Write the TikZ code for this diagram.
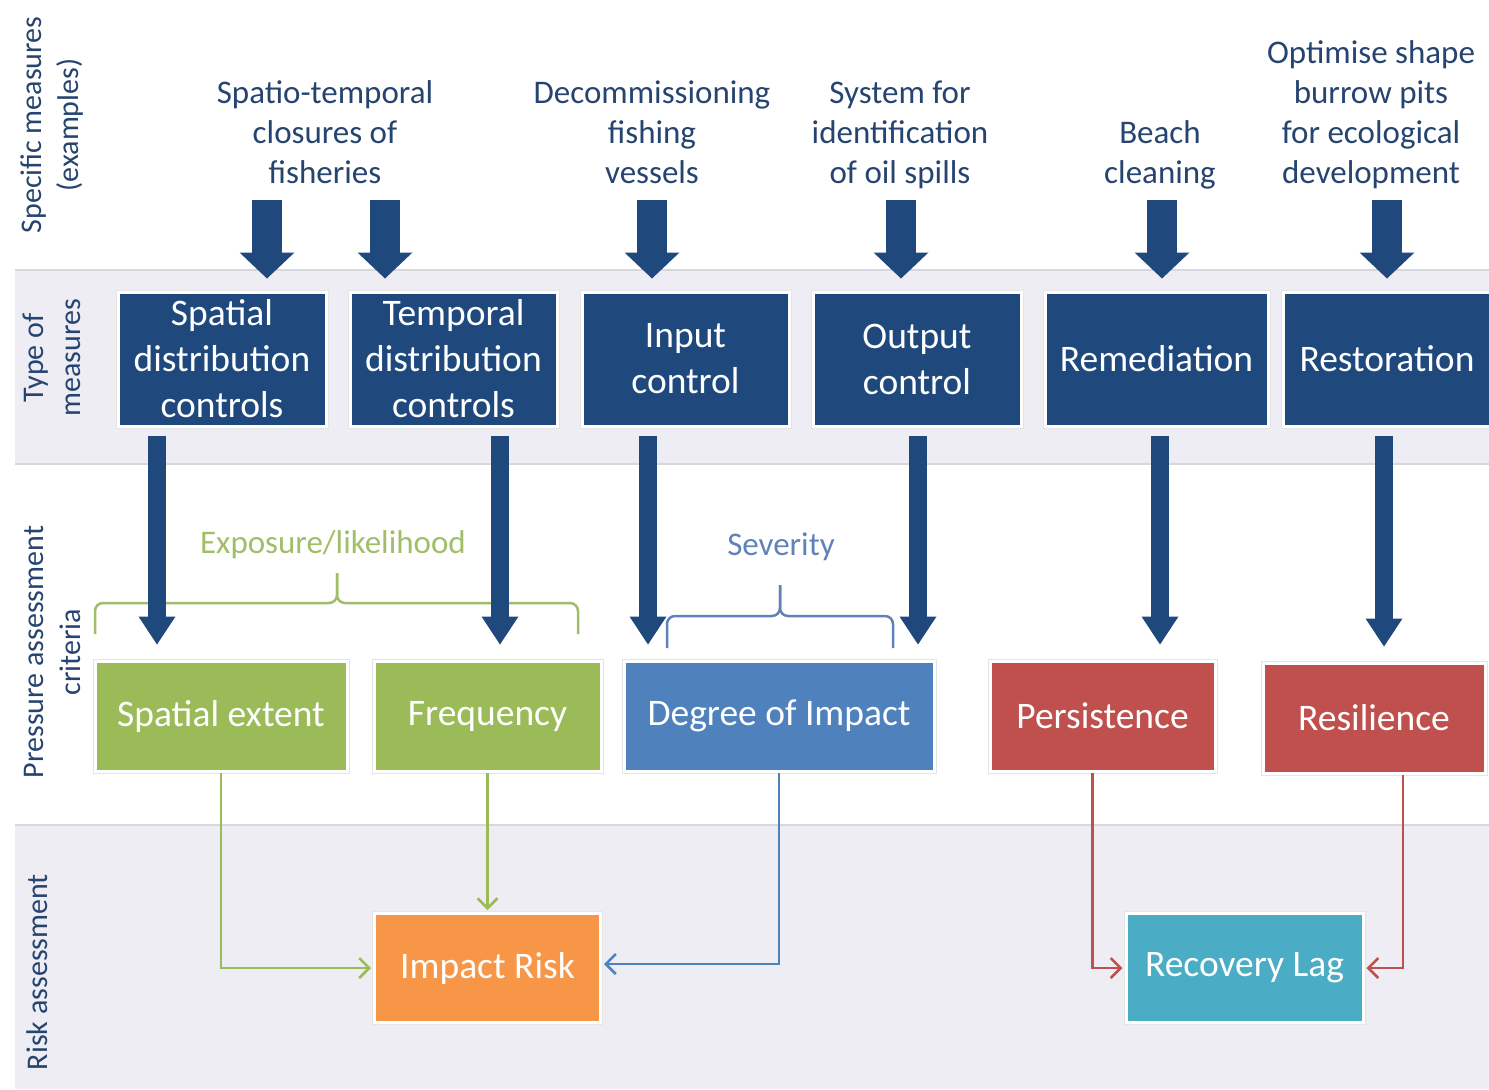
\documentclass[tikz,border=0pt]{standalone}
\usepackage{fontspec}
\setmainfont{Carlito}
\usepackage{tikz}
\usetikzlibrary{arrows.meta,positioning,calc}
\usepackage{xcolor}

\definecolor{navy}{RGB}{31,73,125}
\definecolor{labelblue}{RGB}{38,68,112}
\definecolor{bandgrey}{RGB}{237,237,243}
\definecolor{bandline}{RGB}{215,215,222}
\definecolor{critgreen}{RGB}{155,187,89}
\definecolor{critblue}{RGB}{79,129,189}
\definecolor{critred}{RGB}{192,80,77}
\definecolor{riskorange}{RGB}{247,150,70}
\definecolor{riskteal}{RGB}{75,172,198}
\definecolor{expgreen}{RGB}{160,190,105}
\definecolor{sevblue}{RGB}{95,130,185}

\begin{document}
\begin{tikzpicture}[x=0.5pt, y=-0.5pt,
    measure/.style={rectangle, fill=navy, draw=white, line width=1.5pt, preaction={draw=black!10, line width=2.5pt}, text=white, align=center, font=\fontsize{18.75}{23}\selectfont, minimum height=67pt, inner sep=0pt},
    criterion/.style={rectangle, draw=white, line width=1.5pt, preaction={draw=black!10, line width=2.5pt}, text=white, font=\fontsize{18.75}{23}\selectfont, minimum height=55pt, inner sep=0pt},
    example/.style={align=center, text=labelblue, font=\fontsize{16.5}{20}\selectfont, anchor=south, inner sep=0pt, execute at end node=\strut},
    rowlabel/.style={rotate=90, align=center, text=labelblue, font=\fontsize{15}{18.5}\selectfont},
    groupname/.style={font=\fontsize{16.5}{20}\selectfont},
    bigarrow/.style={draw=navy, line width=15pt, -{Triangle[length=13pt, width=27.5pt, line width=0pt]}, shorten <=2pt, shorten >=6pt},
    downarrow/.style={draw=navy, line width=9pt, -{Triangle[length=14pt, width=18.5pt, line width=0pt]}, shorten <=4pt, shorten >=7.5pt},
    link/.style={line width=1.25pt, -{Straight Barb[length=5pt, width=10pt]}, shorten >=1pt},
    bracket/.style={line width=1.25pt, rounded corners=4pt}
]
\useasboundingbox (0,0) rectangle (1489,1089);

% bands
\fill[bandgrey] (15,270) rectangle (1489,464);
\fill[bandgrey] (15,825) rectangle (1489,1089);
\draw[bandline, line width=0.75pt] (15,270) -- (1489,270);
\draw[bandline, line width=0.75pt] (15,464) -- (1489,464);
\draw[bandline, line width=0.75pt] (15,825) -- (1489,825);

% row labels
\node[rowlabel] (lspec) at (52,125) {Specific measures\\(examples)};
\node[rowlabel] (ltype) at (52,358) {Type of\\measures};
\node[rowlabel] (lpress) at (52,652) {Pressure assessment\\criteria};
\node[rowlabel] (lrisk) at (37,972) {Risk assessment};

% specific measures
\node[example] (sptemp) at (325,196) {Spatio-temporal\\closures of\\fisheries};
\node[example] (decom) at (652,196) {Decommissioning\\fishing\\vessels};
\node[example] (oilsys) at (900,196) {System for\\identification\\of oil spills};
\node[example] (beach) at (1160,196) {Beach\\cleaning};
\node[example] (optim) at (1371,196) {Optimise shape\\burrow pits\\for ecological\\development};

% type of measures
\node[measure, minimum width=104pt] (spatctl) at (222,359) {Spatial\\distribution\\controls};
\node[measure, minimum width=103.5pt] (tempctl) at (453.5,359) {Temporal\\distribution\\controls};
\node[measure, minimum width=103.5pt] (inputctl) at (685.5,359) {Input\\control};
\node[measure, minimum width=104pt] (outputctl) at (917,359) {Output\\control};
\node[measure, minimum width=111.5pt] (remed) at (1156.5,359) {Remediation};
\node[measure, minimum width=104pt] (restor) at (1387,359) {Restoration};

% pressure assessment criteria
\node[criterion, fill=critgreen, minimum width=126pt] (spext) at (221,716) {Spatial extent};
\node[criterion, fill=critgreen, minimum width=113.5pt] (freq) at (487.5,716) {Frequency};
\node[criterion, fill=critblue, minimum width=155pt] (degimp) at (779,716) {Degree of Impact};
\node[criterion, fill=critred, minimum width=112.5pt] (persist) at (1102.5,716) {Persistence};
\node[criterion, fill=critred, minimum width=111pt] (resil) at (1374,718) {Resilience};

% risk assessment
\node[criterion, fill=riskorange, minimum width=113pt, minimum height=54.5pt] (impact) at (487.5,968) {Impact Risk};
\node[criterion, fill=riskteal, minimum width=118.5pt, minimum height=54.5pt] (recov) at (1244.5,968) {Recovery Lag};

% braces
\node[groupname, text=expgreen] (explab) at (333,545) {Exposure/likelihood};
\node[groupname, text=sevblue] (sevlab) at (781,547) {Severity};
\draw[bracket, draw=expgreen] (95,634) -- (95,603) -- (337,603) -- (337,573);
\draw[bracket, draw=expgreen] (578,634) -- (578,603) -- (337,603) -- (337,573);
\draw[bracket, draw=sevblue] (667,648) -- (667,616) -- (780,616) -- (780,585);
\draw[bracket, draw=sevblue] (893,648) -- (893,616) -- (780,616) -- (780,585);

% measures to types
\draw[bigarrow] ([xshift=-29pt]sptemp.south) coordinate (t1) -- (t1 |- spatctl.north);
\draw[bigarrow] ([xshift=30pt]sptemp.south) coordinate (t2) -- (t2 |- tempctl.north);
\draw[bigarrow] (decom.south) -- (decom.south |- inputctl.north);
\draw[bigarrow] ([xshift=0.5pt]oilsys.south) coordinate (t4) -- (t4 |- outputctl.north);
\draw[bigarrow] ([xshift=1pt]beach.south) coordinate (t5) -- (t5 |- remed.north);
\draw[bigarrow] ([xshift=8pt]optim.south) coordinate (t6) -- (t6 |- restor.north);

% types to criteria
\draw[downarrow] ([xshift=-32.5pt]spatctl.south) coordinate (d1) -- (d1 |- spext.north);
\draw[downarrow] ([xshift=23.25pt]tempctl.south) coordinate (d2) -- (d2 |- freq.north);
\draw[downarrow] ([xshift=-18.75pt]inputctl.south) coordinate (d3) -- (d3 |- degimp.north);
\draw[downarrow] ([xshift=0.5pt]outputctl.south) coordinate (d4) -- (d4 |- degimp.north);
\draw[downarrow] ([xshift=1.75pt]remed.south) coordinate (d5) -- (d5 |- persist.north);
\draw[downarrow] ([xshift=-1.5pt]restor.south) coordinate (d6) -- (d6 |- resil.north);

% criteria to risk
\draw[link, draw=critgreen] (spext.south) |- (impact.west);
\draw[link, draw=critgreen] (freq.south) -- (impact.north);
\draw[link, draw=critblue] (degimp.south) |- ([yshift=2pt]impact.east);
\draw[link, draw=critred] ([xshift=-5pt]persist.south) |- (recov.west);
\draw[link, draw=critred] ([xshift=14.5pt]resil.south) |- (recov.east);

\end{tikzpicture}
\end{document}
